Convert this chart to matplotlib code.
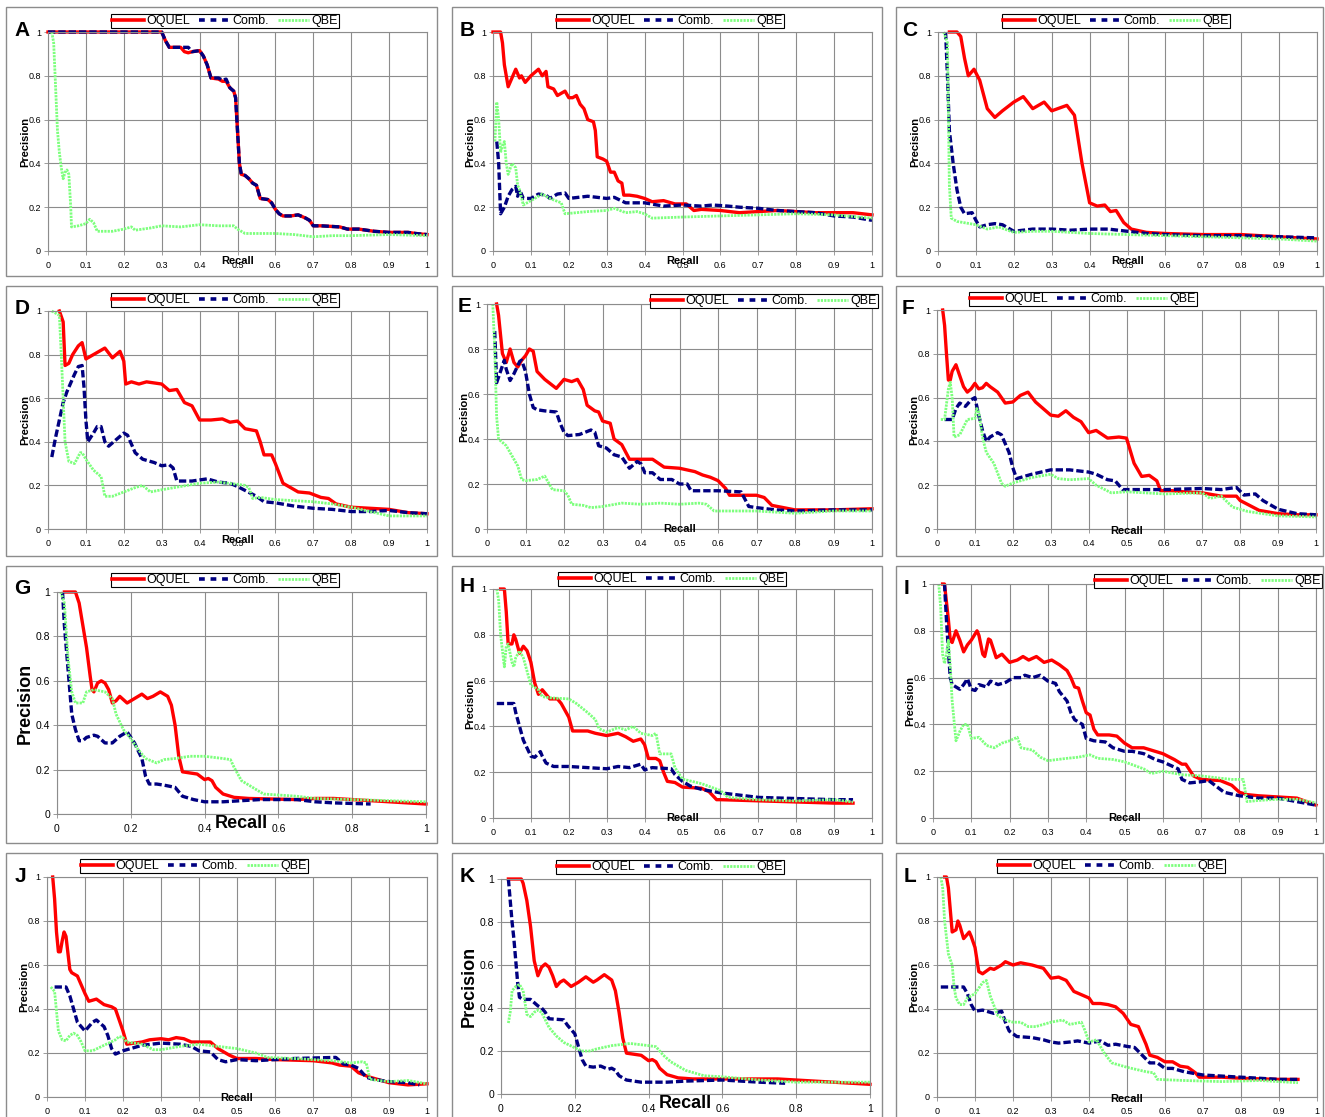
#!/usr/bin/env python3
"""Precision/recall curves for twelve queries (A-L): OQUEL vs Comb. vs QBE."""
import matplotlib
matplotlib.use("Agg")
import matplotlib.pyplot as plt  # noqa: E402
from matplotlib.lines import Line2D  # noqa: E402
from matplotlib.patches import Rectangle  # noqa: E402
from matplotlib.ticker import FuncFormatter  # noqa: E402

plt.rcParams["font.family"] = ["Liberation Sans", "DejaVu Sans"]

W, H = 1325, 1117
SERIES = ["OQUEL", "Comb.", "QBE"]
LETTERS = list("ABCDEFGHIJKL")
XT_FINE = [0, 0.1, 0.2, 0.3, 0.4, 0.5, 0.6, 0.7, 0.8, 0.9, 1.0]
XT_COARSE = [0, 0.2, 0.4, 0.6, 0.8, 1.0]
YT = [0, 0.2, 0.4, 0.6, 0.8, 1.0]

# ---- data (recall, precision) ----
A_OQUEL = [(0, 1), (0.30, 1), (0.31, 0.96), (0.32, 0.93), (0.35, 0.93), (0.36, 0.91), (0.37, 0.905),
           (0.38, 0.91), (0.40, 0.915), (0.41, 0.89), (0.42, 0.85), (0.43, 0.79), (0.45, 0.785),
           (0.46, 0.775), (0.47, 0.775), (0.48, 0.745), (0.49, 0.73), (0.495, 0.70), (0.50, 0.55),
           (0.505, 0.40), (0.51, 0.35), (0.52, 0.345), (0.53, 0.33), (0.54, 0.31), (0.55, 0.30),
           (0.56, 0.24), (0.58, 0.235), (0.59, 0.22), (0.60, 0.19), (0.61, 0.17), (0.62, 0.16),
           (0.64, 0.16), (0.66, 0.165), (0.68, 0.15), (0.69, 0.14), (0.70, 0.115), (0.72, 0.115),
           (0.77, 0.11), (0.79, 0.10), (0.82, 0.10), (0.86, 0.09), (0.90, 0.085), (0.95, 0.085),
           (0.97, 0.08), (1.0, 0.075)]
A_COMB = [(0, 1), (0.30, 1), (0.31, 0.96), (0.32, 0.93), (0.35, 0.93), (0.37, 0.93), (0.38, 0.91),
          (0.40, 0.915), (0.41, 0.89), (0.42, 0.85), (0.43, 0.79), (0.45, 0.79), (0.46, 0.78),
          (0.47, 0.785), (0.48, 0.745), (0.49, 0.73), (0.495, 0.70), (0.50, 0.55), (0.505, 0.40),
          (0.51, 0.35), (0.52, 0.345), (0.53, 0.33), (0.54, 0.31), (0.55, 0.30), (0.56, 0.24),
          (0.58, 0.235), (0.59, 0.22), (0.60, 0.19), (0.61, 0.17), (0.62, 0.16), (0.64, 0.16),
          (0.66, 0.165), (0.68, 0.15), (0.69, 0.14), (0.70, 0.115), (0.72, 0.115), (0.77, 0.11),
          (0.79, 0.10), (0.82, 0.10), (0.86, 0.09), (0.90, 0.085), (0.95, 0.085), (0.97, 0.08),
          (1.0, 0.075)]
A_QBE = [(0.01, 1.0), (0.015, 0.95), (0.02, 0.75), (0.025, 0.55), (0.03, 0.45), (0.035, 0.38),
         (0.04, 0.33), (0.045, 0.36), (0.05, 0.37), (0.055, 0.35), (0.06, 0.20), (0.062, 0.11),
         (0.08, 0.115), (0.10, 0.125), (0.11, 0.145), (0.12, 0.13), (0.13, 0.09), (0.17, 0.09),
         (0.20, 0.10), (0.22, 0.11), (0.23, 0.095), (0.27, 0.105), (0.30, 0.115), (0.35, 0.11),
         (0.40, 0.12), (0.45, 0.115), (0.49, 0.115), (0.50, 0.10), (0.52, 0.08), (0.60, 0.08),
         (0.65, 0.075), (0.70, 0.065), (0.75, 0.07), (0.80, 0.07), (0.90, 0.075), (1.0, 0.07)]

B_OQUEL = [(0, 1), (0.02, 1.0), (0.025, 0.95), (0.03, 0.85), (0.04, 0.75), (0.05, 0.79), (0.06, 0.83),
           (0.07, 0.79), (0.075, 0.80), (0.085, 0.77), (0.10, 0.80), (0.12, 0.83), (0.13, 0.80),
           (0.14, 0.82), (0.145, 0.75), (0.16, 0.74), (0.17, 0.71), (0.19, 0.73), (0.20, 0.70),
           (0.21, 0.70), (0.22, 0.71), (0.23, 0.67), (0.24, 0.65), (0.25, 0.60), (0.265, 0.59),
           (0.27, 0.55), (0.275, 0.43), (0.29, 0.42), (0.30, 0.41), (0.31, 0.36), (0.32, 0.36),
           (0.33, 0.32), (0.34, 0.31), (0.345, 0.255), (0.36, 0.255), (0.38, 0.25), (0.40, 0.24),
           (0.42, 0.225), (0.45, 0.23), (0.48, 0.215), (0.51, 0.215), (0.52, 0.20), (0.53, 0.185),
           (0.55, 0.19), (0.60, 0.185), (0.65, 0.175), (0.70, 0.18), (0.75, 0.185), (0.80, 0.18),
           (0.85, 0.175), (0.90, 0.175), (0.95, 0.175), (1.0, 0.165)]
B_COMB = [(0.01, 0.5), (0.015, 0.40), (0.02, 0.17), (0.03, 0.20), (0.04, 0.25), (0.05, 0.28),
          (0.06, 0.295), (0.065, 0.25), (0.07, 0.28), (0.08, 0.24), (0.10, 0.24), (0.12, 0.26),
          (0.14, 0.255), (0.15, 0.24), (0.17, 0.26), (0.19, 0.265), (0.20, 0.24), (0.25, 0.25),
          (0.30, 0.24), (0.32, 0.245), (0.35, 0.22), (0.40, 0.22), (0.45, 0.205), (0.50, 0.21),
          (0.55, 0.205), (0.58, 0.21), (0.62, 0.205), (0.65, 0.20), (0.70, 0.195), (0.75, 0.185),
          (0.80, 0.18), (0.85, 0.175), (0.90, 0.16), (0.95, 0.155), (1.0, 0.14)]
B_QBE = [(0.005, 0.50), (0.01, 0.68), (0.015, 0.60), (0.02, 0.45), (0.025, 0.48), (0.03, 0.50),
         (0.035, 0.40), (0.04, 0.35), (0.05, 0.40), (0.06, 0.38), (0.065, 0.30), (0.07, 0.28),
         (0.08, 0.21), (0.10, 0.23), (0.12, 0.25), (0.13, 0.26), (0.15, 0.24), (0.18, 0.22),
         (0.19, 0.17), (0.25, 0.18), (0.30, 0.185), (0.32, 0.195), (0.35, 0.175), (0.38, 0.18),
         (0.40, 0.17), (0.42, 0.15), (0.50, 0.155), (0.60, 0.16), (0.70, 0.165), (0.80, 0.17),
         (0.90, 0.165), (1.0, 0.15)]

C_OQUEL = [(0.03, 1.0), (0.05, 1.0), (0.06, 0.98), (0.07, 0.88), (0.08, 0.80), (0.095, 0.83),
           (0.11, 0.78), (0.13, 0.65), (0.15, 0.61), (0.17, 0.64), (0.20, 0.68), (0.225, 0.705),
           (0.25, 0.65), (0.28, 0.68), (0.30, 0.64), (0.34, 0.665), (0.36, 0.62), (0.38, 0.40),
           (0.40, 0.22), (0.42, 0.205), (0.44, 0.21), (0.455, 0.18), (0.47, 0.185), (0.49, 0.13),
           (0.51, 0.10), (0.55, 0.085), (0.60, 0.08), (0.70, 0.075), (0.80, 0.075), (0.90, 0.065),
           (1.0, 0.055)]
C_COMB = [(0.02, 1.0), (0.025, 0.80), (0.03, 0.55), (0.04, 0.40), (0.05, 0.28), (0.06, 0.20),
          (0.07, 0.17), (0.09, 0.175), (0.10, 0.14), (0.11, 0.11), (0.13, 0.12), (0.15, 0.125),
          (0.17, 0.12), (0.20, 0.09), (0.25, 0.10), (0.30, 0.10), (0.35, 0.095), (0.40, 0.10),
          (0.45, 0.10), (0.50, 0.09), (0.55, 0.08), (0.60, 0.075), (0.70, 0.07), (0.80, 0.07),
          (0.90, 0.065), (1.0, 0.06)]
C_QBE = [(0.015, 1.0), (0.025, 0.95), (0.03, 0.30), (0.035, 0.15), (0.05, 0.135), (0.10, 0.12),
         (0.13, 0.10), (0.16, 0.11), (0.20, 0.085), (0.25, 0.09), (0.30, 0.09), (0.40, 0.08),
         (0.50, 0.075), (0.60, 0.07), (0.70, 0.065), (0.80, 0.06), (0.90, 0.055), (1.0, 0.045)]

D_OQUEL = [(0.03, 1.0), (0.04, 0.95), (0.045, 0.75), (0.055, 0.76), (0.065, 0.80), (0.08, 0.84),
           (0.09, 0.855), (0.10, 0.78), (0.12, 0.80), (0.15, 0.83), (0.17, 0.785), (0.19, 0.815),
           (0.20, 0.77), (0.205, 0.665), (0.22, 0.675), (0.24, 0.665), (0.26, 0.675), (0.28, 0.67),
           (0.30, 0.665), (0.32, 0.635), (0.34, 0.64), (0.36, 0.58), (0.38, 0.565), (0.40, 0.50),
           (0.43, 0.50), (0.46, 0.505), (0.48, 0.49), (0.50, 0.495), (0.52, 0.46), (0.55, 0.45),
           (0.56, 0.40), (0.57, 0.34), (0.59, 0.34), (0.60, 0.30), (0.62, 0.21), (0.64, 0.19),
           (0.66, 0.17), (0.69, 0.165), (0.72, 0.145), (0.74, 0.14), (0.76, 0.115), (0.80, 0.10),
           (0.85, 0.095), (0.90, 0.09), (0.95, 0.075), (1.0, 0.07)]
D_COMB = [(0.01, 0.33), (0.02, 0.42), (0.03, 0.50), (0.04, 0.58), (0.05, 0.63), (0.06, 0.67),
          (0.07, 0.71), (0.08, 0.745), (0.09, 0.75), (0.095, 0.65), (0.10, 0.50), (0.105, 0.40),
          (0.12, 0.44), (0.13, 0.47), (0.14, 0.47), (0.15, 0.40), (0.16, 0.38), (0.18, 0.41),
          (0.20, 0.44), (0.21, 0.43), (0.23, 0.35), (0.25, 0.32), (0.28, 0.305), (0.30, 0.29),
          (0.32, 0.295), (0.33, 0.28), (0.34, 0.22), (0.38, 0.22), (0.42, 0.23), (0.45, 0.215),
          (0.48, 0.21), (0.50, 0.195), (0.55, 0.15), (0.57, 0.125), (0.60, 0.12), (0.65, 0.105),
          (0.70, 0.095), (0.75, 0.09), (0.80, 0.08), (0.85, 0.08), (0.90, 0.085), (0.95, 0.075),
          (1.0, 0.07)]
D_QBE = [(0.01, 1.0), (0.03, 0.98), (0.035, 0.80), (0.04, 0.60), (0.045, 0.40), (0.055, 0.31),
         (0.07, 0.30), (0.085, 0.35), (0.09, 0.35), (0.10, 0.32), (0.12, 0.27), (0.14, 0.24),
         (0.15, 0.15), (0.17, 0.15), (0.20, 0.17), (0.23, 0.19), (0.25, 0.20), (0.27, 0.17),
         (0.30, 0.18), (0.35, 0.195), (0.40, 0.21), (0.45, 0.215), (0.50, 0.205), (0.52, 0.20),
         (0.53, 0.19), (0.54, 0.14), (0.56, 0.145), (0.60, 0.135), (0.65, 0.13), (0.70, 0.125),
         (0.75, 0.115), (0.80, 0.10), (0.85, 0.08), (0.90, 0.06), (1.0, 0.06)]

E_OQUEL = [(0.025, 1.0), (0.03, 0.95), (0.04, 0.78), (0.05, 0.74), (0.06, 0.80), (0.07, 0.74),
           (0.08, 0.72), (0.09, 0.75), (0.10, 0.77), (0.11, 0.80), (0.12, 0.79), (0.13, 0.70),
           (0.15, 0.665), (0.18, 0.625), (0.20, 0.665), (0.22, 0.655), (0.235, 0.665), (0.25, 0.62),
           (0.26, 0.55), (0.28, 0.525), (0.29, 0.52), (0.30, 0.48), (0.32, 0.47), (0.33, 0.40),
           (0.35, 0.375), (0.37, 0.31), (0.40, 0.31), (0.43, 0.31), (0.46, 0.275), (0.50, 0.27),
           (0.54, 0.255), (0.56, 0.24), (0.58, 0.23), (0.60, 0.215), (0.62, 0.18), (0.63, 0.15),
           (0.67, 0.15), (0.70, 0.15), (0.72, 0.14), (0.74, 0.105), (0.77, 0.095), (0.80, 0.085),
           (0.90, 0.085), (1.0, 0.09)]
E_COMB = [(0.02, 0.88), (0.025, 0.65), (0.035, 0.70), (0.045, 0.75), (0.05, 0.71), (0.06, 0.66),
          (0.07, 0.69), (0.085, 0.745), (0.09, 0.75), (0.10, 0.70), (0.11, 0.60), (0.12, 0.54),
          (0.13, 0.53), (0.15, 0.525), (0.18, 0.52), (0.19, 0.47), (0.20, 0.43), (0.21, 0.415),
          (0.24, 0.42), (0.27, 0.44), (0.28, 0.43), (0.29, 0.37), (0.31, 0.36), (0.33, 0.33),
          (0.35, 0.32), (0.37, 0.27), (0.39, 0.30), (0.40, 0.29), (0.41, 0.25), (0.43, 0.25),
          (0.45, 0.22), (0.48, 0.22), (0.50, 0.20), (0.52, 0.20), (0.53, 0.17), (0.60, 0.17),
          (0.66, 0.165), (0.68, 0.10), (0.70, 0.095), (0.75, 0.085), (0.80, 0.08), (0.90, 0.085),
          (1.0, 0.085)]
E_QBE = [(0.015, 1.0), (0.02, 0.80), (0.025, 0.50), (0.03, 0.40), (0.05, 0.37), (0.06, 0.34),
         (0.08, 0.28), (0.09, 0.22), (0.10, 0.215), (0.13, 0.22), (0.15, 0.235), (0.17, 0.175),
         (0.20, 0.17), (0.21, 0.15), (0.22, 0.11), (0.25, 0.105), (0.27, 0.095), (0.30, 0.10),
         (0.35, 0.115), (0.40, 0.11), (0.45, 0.115), (0.50, 0.11), (0.55, 0.115), (0.57, 0.11),
         (0.59, 0.08), (0.70, 0.08), (0.75, 0.075), (0.80, 0.07), (0.85, 0.075), (0.90, 0.08),
         (1.0, 0.08)]

F_OQUEL = [(0.015, 1.0), (0.02, 0.93), (0.025, 0.80), (0.03, 0.68), (0.035, 0.68), (0.04, 0.72),
           (0.05, 0.75), (0.06, 0.70), (0.07, 0.65), (0.08, 0.625), (0.09, 0.64), (0.10, 0.665),
           (0.11, 0.64), (0.12, 0.645), (0.13, 0.665), (0.14, 0.65), (0.16, 0.625), (0.18, 0.575),
           (0.20, 0.58), (0.22, 0.61), (0.24, 0.625), (0.26, 0.58), (0.28, 0.55), (0.30, 0.52),
           (0.32, 0.515), (0.34, 0.54), (0.36, 0.51), (0.38, 0.49), (0.40, 0.44), (0.42, 0.45),
           (0.45, 0.415), (0.48, 0.42), (0.50, 0.415), (0.52, 0.30), (0.54, 0.24), (0.56, 0.245),
           (0.58, 0.22), (0.59, 0.175), (0.62, 0.175), (0.65, 0.17), (0.70, 0.165), (0.75, 0.15),
           (0.79, 0.15), (0.80, 0.13), (0.85, 0.085), (0.90, 0.07), (0.95, 0.065), (1.0, 0.065)]
F_COMB = [(0.02, 0.50), (0.04, 0.50), (0.05, 0.55), (0.06, 0.575), (0.075, 0.56), (0.09, 0.59),
          (0.10, 0.60), (0.11, 0.52), (0.12, 0.45), (0.13, 0.40), (0.14, 0.42), (0.16, 0.44),
          (0.17, 0.43), (0.19, 0.35), (0.20, 0.28), (0.21, 0.23), (0.25, 0.25), (0.30, 0.27),
          (0.35, 0.27), (0.40, 0.26), (0.42, 0.25), (0.45, 0.225), (0.47, 0.22), (0.49, 0.18),
          (0.60, 0.18), (0.70, 0.185), (0.75, 0.18), (0.79, 0.19), (0.81, 0.155), (0.84, 0.16),
          (0.86, 0.13), (0.90, 0.09), (0.95, 0.07), (1.0, 0.065)]
F_QBE = [(0.01, 0.50), (0.02, 0.50), (0.03, 0.64), (0.035, 0.67), (0.04, 0.60), (0.045, 0.42),
         (0.06, 0.43), (0.08, 0.50), (0.10, 0.505), (0.105, 0.55), (0.11, 0.535), (0.12, 0.42),
         (0.13, 0.35), (0.15, 0.30), (0.17, 0.21), (0.18, 0.195), (0.20, 0.21), (0.25, 0.235),
         (0.30, 0.25), (0.32, 0.23), (0.35, 0.225), (0.40, 0.23), (0.42, 0.20), (0.46, 0.165),
         (0.50, 0.17), (0.60, 0.16), (0.70, 0.165), (0.72, 0.14), (0.75, 0.15), (0.78, 0.10),
         (0.82, 0.08), (0.90, 0.06), (1.0, 0.055)]

G_OQUEL = [(0.02, 1.0), (0.05, 1.0), (0.06, 0.95), (0.07, 0.85), (0.08, 0.75), (0.09, 0.62),
           (0.095, 0.56), (0.10, 0.55), (0.11, 0.59), (0.12, 0.60), (0.13, 0.59), (0.14, 0.56),
           (0.15, 0.50), (0.16, 0.51), (0.17, 0.53), (0.19, 0.50), (0.21, 0.52), (0.23, 0.54),
           (0.245, 0.52), (0.26, 0.53), (0.28, 0.55), (0.30, 0.53), (0.31, 0.49), (0.32, 0.40),
           (0.33, 0.26), (0.34, 0.19), (0.38, 0.18), (0.40, 0.155), (0.41, 0.16), (0.42, 0.15),
           (0.43, 0.12), (0.45, 0.09), (0.48, 0.075), (0.52, 0.07), (0.65, 0.065), (0.70, 0.07),
           (0.75, 0.07), (0.80, 0.065), (0.85, 0.06), (0.90, 0.055), (1.0, 0.045)]
G_COMB = [(0.015, 1.0), (0.02, 0.85), (0.03, 0.65), (0.035, 0.55), (0.04, 0.45), (0.05, 0.38),
          (0.06, 0.33), (0.07, 0.33), (0.08, 0.345), (0.10, 0.355), (0.11, 0.35), (0.13, 0.32),
          (0.15, 0.32), (0.17, 0.35), (0.19, 0.37), (0.21, 0.32), (0.23, 0.25), (0.24, 0.17),
          (0.25, 0.135), (0.27, 0.135), (0.29, 0.13), (0.32, 0.12), (0.34, 0.08), (0.37, 0.065),
          (0.40, 0.055), (0.45, 0.055), (0.50, 0.06), (0.55, 0.065), (0.65, 0.065), (0.70, 0.055),
          (0.75, 0.05), (0.85, 0.045)]
G_QBE = [(0.01, 1.0), (0.02, 0.95), (0.03, 0.70), (0.04, 0.55), (0.05, 0.50), (0.07, 0.50),
         (0.08, 0.55), (0.10, 0.56), (0.13, 0.55), (0.15, 0.52), (0.16, 0.45), (0.18, 0.38),
         (0.20, 0.34), (0.22, 0.29), (0.24, 0.25), (0.27, 0.23), (0.29, 0.245), (0.32, 0.25),
         (0.36, 0.26), (0.40, 0.26), (0.45, 0.25), (0.47, 0.245), (0.48, 0.21), (0.50, 0.15),
         (0.53, 0.12), (0.56, 0.09), (0.65, 0.08), (0.70, 0.07), (0.80, 0.065), (0.90, 0.06),
         (1.0, 0.055)]

H_OQUEL = [(0.02, 1.0), (0.03, 1.0), (0.035, 0.90), (0.04, 0.76), (0.05, 0.76), (0.055, 0.80),
           (0.06, 0.78), (0.07, 0.72), (0.08, 0.75), (0.09, 0.73), (0.10, 0.68), (0.11, 0.59),
           (0.12, 0.54), (0.13, 0.56), (0.15, 0.52), (0.17, 0.52), (0.18, 0.50), (0.20, 0.44),
           (0.21, 0.38), (0.25, 0.38), (0.27, 0.37), (0.30, 0.36), (0.33, 0.37), (0.35, 0.355),
           (0.37, 0.335), (0.39, 0.345), (0.40, 0.32), (0.41, 0.26), (0.43, 0.26), (0.44, 0.25),
           (0.45, 0.20), (0.46, 0.16), (0.48, 0.155), (0.50, 0.135), (0.55, 0.13), (0.57, 0.115),
           (0.59, 0.08), (0.60, 0.08), (0.70, 0.075), (0.80, 0.07), (0.90, 0.065), (0.95, 0.065)]
H_COMB = [(0.01, 0.50), (0.055, 0.50), (0.06, 0.46), (0.07, 0.40), (0.08, 0.34), (0.10, 0.27),
          (0.11, 0.265), (0.125, 0.29), (0.13, 0.27), (0.14, 0.24), (0.16, 0.225), (0.20, 0.225),
          (0.25, 0.22), (0.30, 0.215), (0.33, 0.225), (0.36, 0.22), (0.39, 0.235), (0.40, 0.21),
          (0.42, 0.22), (0.47, 0.215), (0.48, 0.19), (0.50, 0.16), (0.52, 0.14), (0.55, 0.125),
          (0.60, 0.11), (0.65, 0.10), (0.70, 0.09), (0.80, 0.085), (0.90, 0.08), (0.95, 0.08)]
H_QBE = [(0.01, 1.0), (0.015, 0.95), (0.02, 0.80), (0.03, 0.66), (0.035, 0.75), (0.04, 0.76),
         (0.05, 0.68), (0.055, 0.66), (0.06, 0.70), (0.07, 0.73), (0.08, 0.70), (0.10, 0.58),
         (0.12, 0.56), (0.13, 0.53), (0.15, 0.525), (0.20, 0.52), (0.22, 0.50), (0.25, 0.46),
         (0.27, 0.43), (0.28, 0.39), (0.30, 0.375), (0.33, 0.395), (0.35, 0.385), (0.37, 0.40),
         (0.39, 0.37), (0.42, 0.36), (0.43, 0.37), (0.44, 0.28), (0.47, 0.28), (0.48, 0.22),
         (0.50, 0.17), (0.55, 0.15), (0.60, 0.12), (0.62, 0.09), (0.70, 0.08), (0.80, 0.075),
         (0.90, 0.08), (0.95, 0.07)]

I_OQUEL = [(0.025, 1.0), (0.03, 1.0), (0.04, 0.85), (0.045, 0.76), (0.05, 0.75), (0.06, 0.80),
           (0.07, 0.76), (0.08, 0.71), (0.09, 0.74), (0.10, 0.76), (0.115, 0.80), (0.12, 0.78),
           (0.13, 0.70), (0.135, 0.69), (0.145, 0.765), (0.15, 0.76), (0.165, 0.685), (0.18, 0.70),
           (0.20, 0.665), (0.22, 0.675), (0.235, 0.69), (0.25, 0.675), (0.27, 0.69), (0.29, 0.665),
           (0.31, 0.675), (0.33, 0.655), (0.35, 0.63), (0.36, 0.60), (0.37, 0.56), (0.38, 0.555),
           (0.39, 0.50), (0.40, 0.45), (0.41, 0.44), (0.42, 0.38), (0.43, 0.355), (0.46, 0.355),
           (0.48, 0.35), (0.50, 0.32), (0.52, 0.30), (0.55, 0.30), (0.57, 0.29), (0.60, 0.275),
           (0.63, 0.25), (0.65, 0.23), (0.66, 0.23), (0.68, 0.18), (0.70, 0.165), (0.75, 0.16),
           (0.78, 0.14), (0.80, 0.11), (0.82, 0.10), (0.85, 0.095), (0.90, 0.09), (0.95, 0.085),
           (1.0, 0.055)]
I_COMB = [(0.03, 1.0), (0.035, 0.85), (0.04, 0.72), (0.045, 0.60), (0.05, 0.57), (0.07, 0.55),
          (0.08, 0.57), (0.09, 0.595), (0.10, 0.55), (0.11, 0.545), (0.12, 0.57), (0.14, 0.56),
          (0.15, 0.585), (0.17, 0.57), (0.19, 0.58), (0.21, 0.60), (0.23, 0.60), (0.24, 0.61),
          (0.26, 0.60), (0.28, 0.61), (0.30, 0.585), (0.32, 0.575), (0.33, 0.54), (0.35, 0.50),
          (0.36, 0.45), (0.37, 0.42), (0.39, 0.40), (0.40, 0.34), (0.42, 0.33), (0.45, 0.325),
          (0.47, 0.30), (0.50, 0.285), (0.52, 0.285), (0.55, 0.275), (0.58, 0.25), (0.60, 0.24),
          (0.62, 0.225), (0.64, 0.21), (0.65, 0.165), (0.67, 0.15), (0.70, 0.155), (0.72, 0.16),
          (0.74, 0.135), (0.76, 0.11), (0.80, 0.095), (0.85, 0.085), (0.90, 0.085), (0.95, 0.07),
          (1.0, 0.055)]
I_QBE = [(0.015, 1.0), (0.02, 0.90), (0.025, 0.70), (0.03, 0.66), (0.035, 0.70), (0.04, 0.76),
         (0.045, 0.65), (0.05, 0.50), (0.06, 0.33), (0.07, 0.37), (0.08, 0.40), (0.09, 0.40),
         (0.10, 0.34), (0.12, 0.345), (0.14, 0.31), (0.16, 0.30), (0.18, 0.32), (0.20, 0.33),
         (0.22, 0.345), (0.23, 0.30), (0.26, 0.29), (0.28, 0.26), (0.30, 0.245), (0.35, 0.255),
         (0.38, 0.26), (0.41, 0.27), (0.43, 0.255), (0.47, 0.25), (0.50, 0.24), (0.55, 0.21),
         (0.57, 0.19), (0.60, 0.20), (0.65, 0.185), (0.70, 0.18), (0.75, 0.17), (0.78, 0.165),
         (0.81, 0.165), (0.82, 0.07), (0.85, 0.075), (0.90, 0.08), (0.95, 0.08), (1.0, 0.065)]

J_OQUEL = [(0.015, 1.0), (0.02, 0.90), (0.025, 0.75), (0.03, 0.66), (0.035, 0.66), (0.04, 0.71),
           (0.045, 0.75), (0.05, 0.73), (0.06, 0.58), (0.065, 0.565), (0.08, 0.55), (0.09, 0.51),
           (0.10, 0.47), (0.11, 0.435), (0.13, 0.445), (0.15, 0.42), (0.17, 0.41), (0.18, 0.40),
           (0.20, 0.30), (0.21, 0.24), (0.23, 0.245), (0.25, 0.25), (0.27, 0.26), (0.30, 0.265),
           (0.32, 0.26), (0.34, 0.27), (0.36, 0.265), (0.38, 0.25), (0.43, 0.25), (0.45, 0.22),
           (0.48, 0.19), (0.50, 0.175), (0.55, 0.175), (0.60, 0.17), (0.70, 0.165), (0.75, 0.155),
           (0.77, 0.145), (0.80, 0.14), (0.82, 0.11), (0.85, 0.09), (0.90, 0.065), (0.95, 0.055),
           (1.0, 0.06)]
J_COMB = [(0.02, 0.50), (0.05, 0.50), (0.06, 0.46), (0.07, 0.40), (0.08, 0.34), (0.10, 0.30),
          (0.12, 0.34), (0.13, 0.35), (0.15, 0.32), (0.16, 0.28), (0.17, 0.22), (0.18, 0.195),
          (0.20, 0.21), (0.22, 0.22), (0.25, 0.235), (0.30, 0.245), (0.35, 0.24), (0.38, 0.23),
          (0.40, 0.21), (0.43, 0.205), (0.45, 0.17), (0.47, 0.16), (0.50, 0.17), (0.55, 0.165),
          (0.60, 0.17), (0.65, 0.175), (0.76, 0.18), (0.78, 0.15), (0.80, 0.145), (0.82, 0.13),
          (0.84, 0.09), (0.86, 0.08), (0.90, 0.07), (0.95, 0.065), (0.98, 0.055)]
J_QBE = [(0.01, 0.50), (0.02, 0.48), (0.03, 0.30), (0.04, 0.26), (0.05, 0.255), (0.06, 0.28),
         (0.07, 0.29), (0.08, 0.28), (0.09, 0.25), (0.10, 0.21), (0.12, 0.21), (0.15, 0.235),
         (0.18, 0.26), (0.19, 0.275), (0.20, 0.27), (0.21, 0.25), (0.25, 0.24), (0.28, 0.215),
         (0.30, 0.215), (0.35, 0.23), (0.40, 0.24), (0.45, 0.23), (0.50, 0.22), (0.55, 0.20),
         (0.58, 0.18), (0.65, 0.175), (0.70, 0.17), (0.75, 0.165), (0.80, 0.155), (0.83, 0.16),
         (0.84, 0.155), (0.85, 0.08), (0.90, 0.07), (0.95, 0.075), (1.0, 0.06)]

K_OQUEL = [(0.02, 1.0), (0.055, 1.0), (0.06, 0.98), (0.07, 0.90), (0.08, 0.78), (0.09, 0.62),
           (0.10, 0.55), (0.11, 0.59), (0.12, 0.605), (0.13, 0.59), (0.14, 0.55), (0.15, 0.50),
           (0.16, 0.52), (0.17, 0.53), (0.19, 0.50), (0.21, 0.52), (0.23, 0.545), (0.25, 0.52),
           (0.26, 0.53), (0.28, 0.555), (0.30, 0.53), (0.31, 0.48), (0.32, 0.38), (0.33, 0.26),
           (0.34, 0.19), (0.38, 0.18), (0.40, 0.155), (0.41, 0.16), (0.42, 0.15), (0.43, 0.12),
           (0.45, 0.09), (0.48, 0.075), (0.52, 0.07), (0.75, 0.07), (0.80, 0.065), (0.85, 0.06),
           (0.90, 0.055), (1.0, 0.045)]
K_COMB = [(0.02, 1.0), (0.025, 0.90), (0.03, 0.80), (0.035, 0.72), (0.04, 0.62), (0.045, 0.52),
          (0.05, 0.45), (0.06, 0.44), (0.08, 0.44), (0.10, 0.41), (0.11, 0.40), (0.12, 0.38),
          (0.13, 0.35), (0.17, 0.345), (0.18, 0.32), (0.20, 0.28), (0.21, 0.22), (0.22, 0.16),
          (0.23, 0.13), (0.25, 0.125), (0.27, 0.13), (0.29, 0.115), (0.30, 0.12), (0.31, 0.11),
          (0.32, 0.085), (0.34, 0.065), (0.38, 0.055), (0.45, 0.055), (0.50, 0.06), (0.60, 0.065),
          (0.65, 0.06), (0.70, 0.055), (0.77, 0.05)]
K_QBE = [(0.02, 0.33), (0.025, 0.38), (0.03, 0.48), (0.04, 0.50), (0.05, 0.51), (0.06, 0.48),
         (0.07, 0.37), (0.08, 0.36), (0.09, 0.38), (0.10, 0.39), (0.11, 0.38), (0.13, 0.31),
         (0.15, 0.27), (0.17, 0.24), (0.20, 0.215), (0.22, 0.20), (0.24, 0.20), (0.26, 0.21),
         (0.30, 0.225), (0.35, 0.235), (0.40, 0.225), (0.42, 0.22), (0.44, 0.18), (0.46, 0.15),
         (0.50, 0.11), (0.55, 0.085), (0.60, 0.08), (0.70, 0.065), (0.80, 0.055), (1.0, 0.055)]

L_OQUEL = [(0.02, 1.0), (0.025, 1.0), (0.03, 0.95), (0.035, 0.85), (0.04, 0.75), (0.05, 0.76),
           (0.055, 0.80), (0.06, 0.78), (0.07, 0.72), (0.085, 0.75), (0.09, 0.73), (0.10, 0.68),
           (0.11, 0.57), (0.12, 0.56), (0.14, 0.585), (0.15, 0.58), (0.17, 0.60), (0.18, 0.615),
           (0.20, 0.60), (0.22, 0.61), (0.25, 0.60), (0.28, 0.585), (0.30, 0.54), (0.32, 0.545),
           (0.34, 0.53), (0.36, 0.48), (0.38, 0.465), (0.40, 0.45), (0.41, 0.425), (0.43, 0.425),
           (0.45, 0.42), (0.47, 0.41), (0.49, 0.38), (0.51, 0.33), (0.53, 0.32), (0.55, 0.24),
           (0.56, 0.19), (0.58, 0.18), (0.60, 0.16), (0.62, 0.16), (0.64, 0.14), (0.66, 0.135),
           (0.68, 0.11), (0.69, 0.09), (0.75, 0.09), (0.80, 0.085), (0.90, 0.08), (0.95, 0.08)]
L_COMB = [(0.01, 0.50), (0.07, 0.50), (0.08, 0.47), (0.09, 0.42), (0.10, 0.39), (0.12, 0.395),
          (0.15, 0.38), (0.17, 0.39), (0.18, 0.34), (0.19, 0.30), (0.21, 0.275), (0.25, 0.27),
          (0.28, 0.26), (0.30, 0.25), (0.32, 0.245), (0.35, 0.25), (0.37, 0.255), (0.40, 0.245),
          (0.43, 0.255), (0.45, 0.235), (0.47, 0.24), (0.50, 0.23), (0.52, 0.225), (0.54, 0.19),
          (0.56, 0.155), (0.58, 0.155), (0.60, 0.13), (0.62, 0.13), (0.65, 0.115), (0.70, 0.10),
          (0.75, 0.095), (0.80, 0.09), (0.85, 0.085), (0.90, 0.08), (0.95, 0.08)]
L_QBE = [(0.01, 1.0), (0.015, 0.95), (0.02, 0.80), (0.03, 0.65), (0.04, 0.60), (0.045, 0.50),
         (0.05, 0.45), (0.06, 0.42), (0.07, 0.42), (0.08, 0.45), (0.10, 0.47), (0.12, 0.52),
         (0.13, 0.53), (0.14, 0.46), (0.16, 0.37), (0.18, 0.35), (0.20, 0.34), (0.22, 0.34),
         (0.24, 0.32), (0.26, 0.32), (0.30, 0.34), (0.33, 0.35), (0.35, 0.33), (0.38, 0.34),
         (0.39, 0.30), (0.40, 0.25), (0.42, 0.26), (0.44, 0.20), (0.46, 0.155), (0.50, 0.135),
         (0.55, 0.115), (0.57, 0.11), (0.58, 0.08), (0.65, 0.075), (0.75, 0.07), (0.85, 0.075),
         (0.90, 0.07), (0.95, 0.065)]

DATA = {
    "A": (A_OQUEL, A_COMB, A_QBE), "B": (B_OQUEL, B_COMB, B_QBE), "C": (C_OQUEL, C_COMB, C_QBE),
    "D": (D_OQUEL, D_COMB, D_QBE), "E": (E_OQUEL, E_COMB, E_QBE), "F": (F_OQUEL, F_COMB, F_QBE),
    "G": (G_OQUEL, G_COMB, G_QBE), "H": (H_OQUEL, H_COMB, H_QBE), "I": (I_OQUEL, I_COMB, I_QBE),
    "J": (J_OQUEL, J_COMB, J_QBE), "K": (K_OQUEL, K_COMB, K_QBE), "L": (L_OQUEL, L_COMB, L_QBE),
}

# ---- layout, in pixels of the 1325x1117 page ----
# plot area: x0, x1, ytop, ybottom
AX_PX = {
    "A": (48, 427, 32, 251), "B": (493, 872, 32, 251), "C": (938, 1317, 32, 251),
    "D": (48, 427, 311, 529), "E": (487, 872, 304, 529), "F": (937, 1316, 310, 529),
    "G": (57, 426, 592, 814), "H": (493, 872, 589, 818), "I": (933, 1316, 584, 818),
    "J": (47, 427, 877, 1097), "K": (501, 870, 879, 1094), "L": (937, 1317, 877, 1097),
}
# outer frames: x0, x1, ytop, ybottom
FRAME_COLS = [(6, 437), (452, 882), (896, 1323)]
FRAME_ROWS = [(7, 276), (286, 556), (566, 843), (853, 1125)]
LEG_PX = {
    "A": (225, 21), "B": (670, 21), "C": (1116, 21), "D": (225, 300), "E": (764, 301),
    "F": (1083, 299), "G": (225, 580), "H": (672, 579), "I": (1208, 581), "J": (194, 866),
    "K": (670, 867), "L": (1111, 866),
}
LETTER_PX = {
    "A": (22, 30), "B": (467, 30), "C": (910, 30), "D": (22, 309), "E": (465, 307),
    "F": (908, 308), "G": (22, 588), "H": (467, 587), "I": (906, 588), "J": (20, 877),
    "K": (467, 877), "L": (910, 877),
}
RECALL_DY = {"A": 10, "B": 10, "C": 10, "D": 11, "E": 0, "F": 2, "G": 10, "H": 0, "I": 0,
             "J": 1, "K": 10, "L": 2}
BIG = {"G", "K"}

COL = {"OQUEL": "#ff0000", "Comb.": "#000080", "QBE": "#7dff7d"}
STYLE = {
    "OQUEL": dict(lw=2.4, ls="-"),
    "Comb.": dict(lw=2.4, ls=(0, (2.2, 0.9))),
    "QBE": dict(lw=2.0, ls=(0, (0.8, 0.4))),
}
LEG_STYLE = {
    "OQUEL": dict(lw=2.6, ls="-"),
    "Comb.": dict(lw=2.6, ls=(0, (1.6, 1.6))),
    "QBE": dict(lw=2.0, ls=(0, (0.8, 0.4))),
}
GRID = "#8c8c8c"


def fx(px):
    return px / W


def fy(py):
    return 1 - py / H


def main():
    fig = plt.figure(figsize=(W / 100, H / 100), dpi=100)
    fig.patch.set_facecolor("white")

    for (c0, c1) in FRAME_COLS:
        for (r0, r1) in FRAME_ROWS:
            fig.patches.append(Rectangle((fx(c0), fy(r1)), (c1 - c0) / W, (r1 - r0) / H,
                                         transform=fig.transFigure, fill=False,
                                         edgecolor="#8c8c8c", lw=1.0))

    fmt = FuncFormatter(lambda v, p: f"{v:g}")
    for key in LETTERS:
        x0, x1, yt, yb = AX_PX[key]
        ax = fig.add_axes([fx(x0), fy(yb), (x1 - x0) / W, (yb - yt) / H])
        big = key in BIG
        for name, pts in zip(SERIES, DATA[key]):
            xs = [p[0] for p in pts]
            ys = [p[1] for p in pts]
            ax.plot(xs, ys, color=COL[name], solid_joinstyle="round", clip_on=False,
                    **STYLE[name])
        ax.set_xlim(0, 1)
        ax.set_ylim(0, 1)
        ax.set_xticks(XT_COARSE if big else XT_FINE)
        ax.set_yticks(YT)
        ax.xaxis.set_major_formatter(fmt)
        ax.yaxis.set_major_formatter(fmt)
        ax.grid(True, color=GRID, lw=0.8)
        ax.set_axisbelow(True)
        for s in ax.spines.values():
            s.set_color(GRID)
            s.set_linewidth(0.8)
        fs = 7.5 if big else 6.5
        ax.tick_params(axis="both", labelsize=fs, length=3, width=0.6, color=GRID, pad=2)
        ax.tick_params(axis="x", pad=4)

        handles = [Line2D([], [], color=COL[n], **LEG_STYLE[n]) for n in SERIES]
        cx, cy = LEG_PX[key]
        leg = ax.legend(handles, SERIES, loc="center", bbox_to_anchor=(fx(cx), fy(cy)),
                        bbox_transform=fig.transFigure, ncol=3, fontsize=9, frameon=True,
                        fancybox=False, edgecolor="black", framealpha=1, borderpad=0.1,
                        handlelength=2.5, handletextpad=0.2, columnspacing=0.7,
                        borderaxespad=0)
        leg.get_frame().set_linewidth(0.8)
        leg.set_zorder(5)

        lx, ly = LETTER_PX[key]
        fig.text(fx(lx), fy(ly), key, fontsize=15, fontweight="bold", ha="center", va="center")
        fig.text(fx(x0 - (32 if big else 23)), fy((yt + yb) / 2), "Precision",
                 fontsize=13 if big else 8, fontweight="bold", rotation=90,
                 ha="center", va="center")
        fig.text(fx((x0 + x1) / 2), fy(yb + RECALL_DY[key]), "Recall",
                 fontsize=13 if big else 8, fontweight="bold", ha="center", va="center")

    fig.savefig("out.png", dpi=100, facecolor="white")
    plt.close(fig)


if __name__ == "__main__":
    main()
